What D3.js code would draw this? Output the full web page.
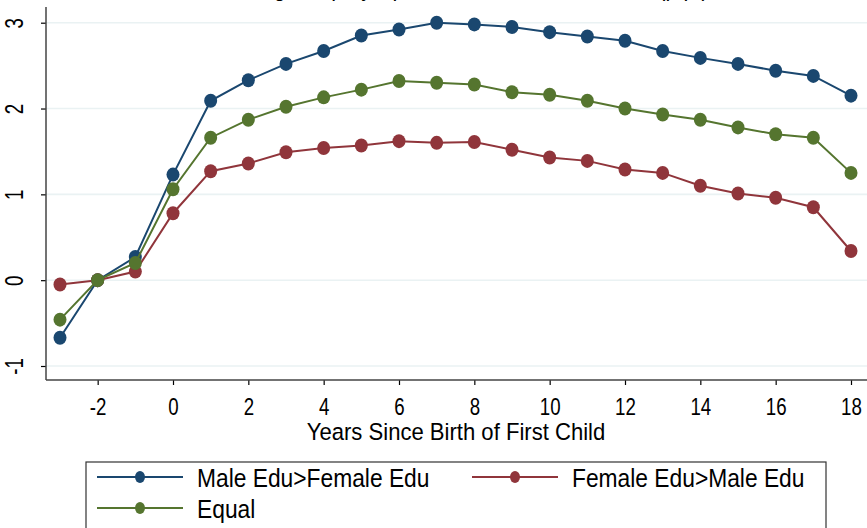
<!DOCTYPE html>
<html>
<head>
<meta charset="utf-8">
<script src="https://cdn.jsdelivr.net/npm/d3@7"></script>
<style>
  body { margin: 0; background: #fff; }
  text { font-family: "Liberation Sans", Arial, sans-serif; fill: #000; }
</style>
</head>
<body>
<div id="chart"></div>
<script>
const years = [-3, -2, -1, 0, 1, 2, 3, 4, 5, 6, 7, 8, 9, 10, 11, 12, 13, 14, 15, 16, 17, 18];
const maleHigher = [-0.67, 0, 0.27, 1.23, 2.09, 2.33, 2.52, 2.67, 2.85, 2.92, 3.00, 2.98, 2.95, 2.89, 2.84, 2.79, 2.67, 2.59, 2.52, 2.44, 2.38, 2.15];
const femaleHigher = [-0.05, 0, 0.10, 0.78, 1.27, 1.36, 1.49, 1.54, 1.57, 1.62, 1.60, 1.61, 1.52, 1.43, 1.39, 1.29, 1.25, 1.10, 1.01, 0.96, 0.85, 0.34];
const equalEdu = [-0.46, 0, 0.20, 1.06, 1.66, 1.87, 2.02, 2.13, 2.22, 2.32, 2.30, 2.28, 2.19, 2.16, 2.09, 2.00, 1.93, 1.87, 1.78, 1.70, 1.66, 1.25];
const xTicks = [-2, 0, 2, 4, 6, 8, 10, 12, 14, 16, 18];
const yTicks = [-1, 0, 1, 2, 3];

const series = [
  { name: "Male Edu>Female Edu", values: maleHigher, color: "#1a476f" },
  { name: "Female Edu>Male Edu", values: femaleHigher, color: "#90353b" },
  { name: "Equal", values: equalEdu, color: "#55752f" }
];

const width = 867;
const height = 528;

const svg = d3.select("#chart").append("svg")
  .attr("width", width)
  .attr("height", height);

const xScale = d3.scaleLinear().domain([-3, 18]).range([60, 851]);
const yScale = d3.scaleLinear().domain([-1, 3]).range([366, 22.7]);

const axisX = 46;
const axisY = 380;

// title, cut off at the top like in the original
svg.append("text")
  .attr("transform", "translate(460,-4) scale(0.9,1.1)")
  .attr("text-anchor", "middle")
  .style("font-size", "24px")
  .text("Earnings Gap by Spouses' Relative Education (p.p.)");

// gridlines
svg.append("g")
  .selectAll("line")
  .data(yTicks)
  .join("line")
  .attr("x1", axisX)
  .attr("x2", width)
  .attr("y1", d => yScale(d))
  .attr("y2", d => yScale(d))
  .attr("stroke", "#eaf2f3")
  .attr("stroke-width", 1.6);

// y axis
const yAxis = d3.axisLeft(yScale).tickValues(yTicks).tickSize(5).tickFormat(d => String(d));
const yAxisGroup = svg.append("g")
  .attr("transform", "translate(" + axisX + ",0)")
  .call(yAxis);
yAxisGroup.select(".domain").remove();
yAxisGroup.selectAll(".tick line").attr("stroke", "#000").attr("stroke-width", 1.2);
yAxisGroup.selectAll(".tick text")
  .attr("x", 0)
  .attr("y", 0)
  .attr("dy", "0.36em")
  .attr("text-anchor", "middle")
  .attr("transform", "translate(-32,0) rotate(-90) scale(0.85,1.15)")
  .style("font-size", "22px")
  .style("font-family", null);

svg.append("line")
  .attr("x1", axisX).attr("x2", axisX)
  .attr("y1", 7).attr("y2", axisY)
  .attr("stroke", "#444").attr("stroke-width", 1.5);

// x axis
const xAxis = d3.axisBottom(xScale).tickValues(xTicks).tickSize(5).tickFormat(d => String(d));
const xAxisGroup = svg.append("g")
  .attr("transform", "translate(0," + axisY + ")")
  .call(xAxis);
xAxisGroup.select(".domain").remove();
xAxisGroup.selectAll(".tick line").attr("stroke", "#000").attr("stroke-width", 1.2);
xAxisGroup.selectAll(".tick text")
  .attr("y", 0)
  .attr("dy", null)
  .attr("transform", "translate(0,35) scale(0.85,1.12)")
  .style("font-size", "22px")
  .style("font-family", null);

svg.append("line")
  .attr("x1", axisX).attr("x2", width)
  .attr("y1", axisY).attr("y2", axisY)
  .attr("stroke", "#444").attr("stroke-width", 1.5);

svg.append("text")
  .attr("transform", "translate(456,440) scale(0.96,1.06)")
  .attr("text-anchor", "middle")
  .style("font-size", "23px")
  .text("Years Since Birth of First Child");

// lines and markers
const lineGenerator = d3.line()
  .x((d, i) => xScale(years[i]))
  .y(d => yScale(d));

series.forEach(function(s) {
  const g = svg.append("g");
  g.append("path")
    .attr("d", lineGenerator(s.values))
    .attr("fill", "none")
    .attr("stroke", s.color)
    .attr("stroke-width", 2);
  g.selectAll("ellipse")
    .data(s.values)
    .join("ellipse")
    .attr("cx", (d, i) => xScale(years[i]))
    .attr("cy", d => yScale(d))
    .attr("rx", 6.5)
    .attr("ry", 7)
    .attr("fill", s.color);
});

// legend
svg.append("rect")
  .attr("x", 86).attr("y", 462)
  .attr("width", 740).attr("height", 80)
  .attr("fill", "#fff")
  .attr("stroke", "#333")
  .attr("stroke-width", 1.2);

const legendPos = [
  { x: 97, y: 477 },
  { x: 472, y: 477 },
  { x: 97, y: 508 }
];

series.forEach(function(s, i) {
  const p = legendPos[i];
  const g = svg.append("g").attr("transform", "translate(" + p.x + "," + p.y + ")");
  g.append("line")
    .attr("x1", 0).attr("x2", 86)
    .attr("y1", 0).attr("y2", 0)
    .attr("stroke", s.color).attr("stroke-width", 2);
  g.append("ellipse")
    .attr("cx", 43).attr("cy", 0)
    .attr("rx", 5).attr("ry", 6)
    .attr("fill", s.color);
  g.append("text")
    .attr("transform", "translate(100,0) scale(0.95,1.1)")
    .attr("dy", "0.36em")
    .style("font-size", "24px")
    .text(s.name);
});
</script>
</body>
</html>
